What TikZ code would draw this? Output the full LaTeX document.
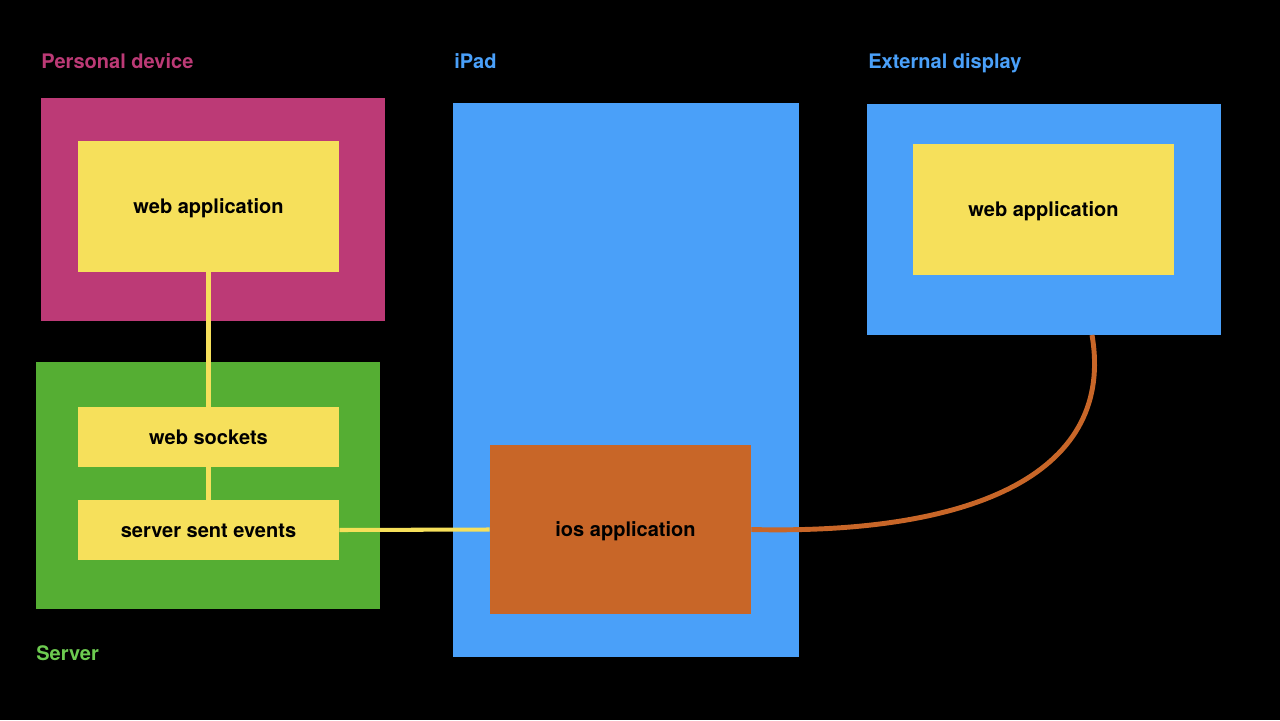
\documentclass[tikz,border=0pt]{standalone}
\usepackage{fontspec}
\setmainfont{TeX Gyre Heros}
\usepackage{tikz}
\usetikzlibrary{calc}
\definecolor{devpink}{HTML}{BC3A76}
\definecolor{srvgreen}{HTML}{55AE33}
\definecolor{srvlabel}{HTML}{6DCB50}
\definecolor{padblue}{HTML}{4AA0F9}
\definecolor{appyellow}{HTML}{F6E05B}
\definecolor{iosorange}{HTML}{C86628}
\tikzstyle{frame} = [rectangle, inner sep=0pt]
\tikzstyle{app} = [rectangle, fill=appyellow, inner sep=0pt, minimum width=5.22cm, text height=8pt, text depth=0pt, font=\fontsize{11.4}{13}\selectfont\bfseries]
\tikzstyle{title} = [anchor=base west, inner sep=0pt, font=\fontsize{11.4}{13}\selectfont\bfseries]
\tikzstyle{wire} = [line width=2.3pt, appyellow]
\tikzstyle{cable} = [line width=2.8pt, iosorange]

\begin{document}
\begin{tikzpicture}[x=0.02cm, y=-0.02cm]
                \fill[black] (0,0) rectangle (1280,720);

                % personal device
                \node (pdtitle) [title, devpink] at (41,68) {Personal device};
                \node (pd) [frame, fill=devpink, minimum width=6.88cm, minimum height=4.46cm] at (213,209.5) {};
                \node (webapp) [app, minimum height=2.62cm] at (208.5,206.5) {web application};

                % server
                \node (srv) [frame, fill=srvgreen, minimum width=6.88cm, minimum height=4.94cm] at (208,485.5) {};
                \node (sock) [app, minimum height=1.2cm] at (208.5,437) {web sockets};
                \node (sse) [app, minimum height=1.2cm] at (208.5,530) {server sent events};
                \node (srvtitle) [title, srvlabel] at (36,660) {Server};

                % ipad
                \node (padtitle) [title, padblue] at (454,68) {iPad};
                \node (pad) [frame, fill=padblue, minimum width=6.92cm, minimum height=11.08cm] at (626,380) {};
                \node (ios) [app, fill=iosorange, minimum height=3.38cm] at (620.5,529.5) {\hspace{0.2cm}ios application};

                % external display
                \node (exttitle) [title, padblue] at (868,68) {External display};
                \node (ext) [frame, fill=padblue, minimum width=7.08cm, minimum height=4.62cm] at (1044,219.5) {};
                \node (extapp) [app, minimum height=2.62cm] at (1043.5,209.5) {web application};
                \coordinate (plug) at (1092,335);

                \draw [wire] (webapp.south) -- (sock.north);
                \draw [wire] (sock.south) -- (sse.north);
                \draw [wire] (sse.east) -- (ios.west);
                \draw [cable] (ios.east) .. controls (980,535) and (1115,470) .. (plug);
            \end{tikzpicture}
\end{document}
